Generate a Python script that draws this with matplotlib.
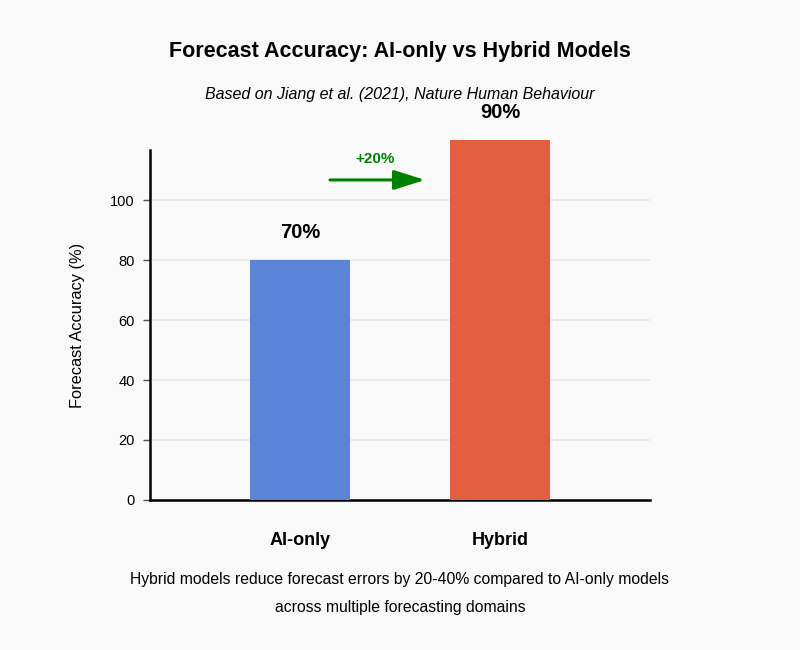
import matplotlib.pyplot as plt

plt.rcParams['font.family'] = ['Liberation Sans', 'DejaVu Sans']

# Chart data
categories = ['AI-only', 'Hybrid']
bar_heights = [80, 120]
bar_labels = ['70%', '90%']
bar_colors = ['#5b84d6', '#e25f40']
gain_label = '+20%'
y_ticks = [0, 20, 40, 60, 80, 100]

fig = plt.figure(figsize=(8, 6.5), dpi=100)
fig.patch.set_facecolor('#f9f9f9')
ax = fig.add_axes([0.1875, 0.2308, 0.625, 0.5385])
ax.set_facecolor('#f9f9f9')

x = list(range(len(categories)))
bars = ax.bar(x, bar_heights, width=0.5, color=bar_colors, zorder=3, clip_on=False)

# Value labels above bars
for xi, h, lab in zip(x, bar_heights, bar_labels):
    ax.text(xi, h + 6, lab, ha='center', va='bottom', fontsize=14.5,
            fontweight='bold', color='black')

# Improvement arrow
ax.annotate('', xy=(0.625, 106.7), xytext=(0.15, 106.7),
            arrowprops=dict(arrowstyle='-|>,head_length=1.9,head_width=0.6',
                            color='#008000', lw=2.2, shrinkA=0, shrinkB=0),
            annotation_clip=False)
ax.text(0.375, 111.5, gain_label, ha='center', va='bottom', fontsize=11,
        fontweight='bold', color='#008000')

ax.set_xlim(-0.75, 1.75)
ax.set_ylim(0, 116.7)
ax.set_yticks(y_ticks)
ax.set_xticks(x)
ax.set_xticklabels(categories, fontsize=13, fontweight='bold')
ax.tick_params(axis='x', length=0, pad=23)
ax.tick_params(axis='y', length=5, width=1, color='#555555', labelsize=10.5, pad=6)
ax.grid(axis='y', color='#e6e6e6', linewidth=1.2, zorder=0)
ax.set_axisbelow(True)

for s in ['top', 'right']:
    ax.spines[s].set_visible(False)
ax.spines['left'].set_linewidth(1.8)
ax.spines['bottom'].set_linewidth(1.8)

ax.set_ylabel('Forecast Accuracy (%)', fontsize=11.8, labelpad=18)

fig.text(0.5, 0.92, 'Forecast Accuracy: AI-only vs Hybrid Models', ha='center',
         va='center', fontsize=15.5, fontweight='bold')
fig.text(0.5, 0.855, 'Based on Jiang et al. (2021), Nature Human Behaviour',
         ha='center', va='center', fontsize=11.5, style='italic')
fig.text(0.5, 0.108, 'Hybrid models reduce forecast errors by 20-40% compared to AI-only models',
         ha='center', va='center', fontsize=11.3)
fig.text(0.5, 0.065, 'across multiple forecasting domains', ha='center', va='center',
         fontsize=11.3)

fig.savefig('out.png', dpi=100, facecolor=fig.get_facecolor())
